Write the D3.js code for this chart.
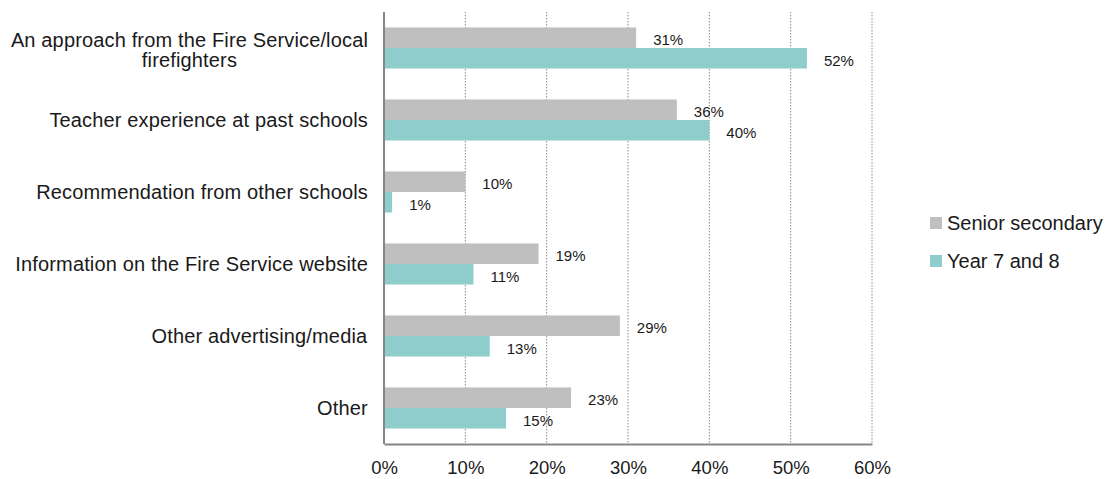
<!DOCTYPE html>
<html>
<head>
<meta charset="utf-8">
<script src="https://cdn.jsdelivr.net/npm/d3@7"></script>
<style>
  html, body { margin: 0; padding: 0; background: #fff; }
  svg { display: block; font-family: "Liberation Sans", Arial, sans-serif; }
</style>
</head>
<body>
<svg id="chart" width="1112" height="479"></svg>
<script>
// Sources of awareness, share of schools by level
const categories = [
  ["An approach from the Fire Service/local", "firefighters"],
  ["Teacher experience at past schools"],
  ["Recommendation from other schools"],
  ["Information on the Fire Service website"],
  ["Other advertising/media"],
  ["Other"]
];
const seriesNames = ["Senior secondary", "Year 7 and 8"];
const seniorSecondary = [31, 36, 10, 19, 29, 23];
const year7and8 = [52, 40, 1, 11, 13, 15];
const xTicks = [0, 10, 20, 30, 40, 50, 60];
const colors = ["#bfbfbf", "#8fcdcc"];

const svg = d3.select("#chart");
const plotLeft = 384, plotRight = 872, plotTop = 12, plotBottom = 444;

const x = d3.scaleLinear().domain([0, 60]).range([plotLeft, plotRight]);
const y = d3.scaleBand().domain(d3.range(categories.length)).range([plotTop, plotBottom]).paddingInner(0.43).paddingOuter(0.215);
const sub = d3.scaleBand().domain([0, 1]).range([0, y.bandwidth()]);

// dotted vertical gridlines
svg.append("g").selectAll("line")
  .data(xTicks.filter(d => d > 0))
  .join("line")
  .attr("x1", d => x(d)).attr("x2", d => x(d))
  .attr("y1", plotTop).attr("y2", plotBottom)
  .attr("stroke", "#8c8c8c").attr("stroke-width", 1)
  .attr("stroke-dasharray", "1.5,1.5");

const series = [seniorSecondary, year7and8];
series.forEach((vals, si) => {
  const g = svg.append("g");
  g.selectAll("rect")
    .data(vals)
    .join("rect")
    .attr("x", x(0))
    .attr("y", (d, i) => y(i) + sub(si))
    .attr("width", d => x(d) - x(0))
    .attr("height", sub.bandwidth())
    .attr("fill", colors[si]);
  g.selectAll("text")
    .data(vals)
    .join("text")
    .attr("x", d => x(d) + 17)
    .attr("y", (d, i) => y(i) + sub(si) + sub.bandwidth() / 2 + 2)
    .attr("dy", "0.35em")
    .attr("font-size", 15)
    .attr("fill", "#1a1a1a")
    .text(d => d + "%");
});

// axes
const xAxis = d3.axisBottom(x).tickValues(xTicks).tickFormat(d => d + "%").tickSize(0).tickPadding(17);
const gx = svg.append("g").attr("transform", `translate(0,${plotBottom})`).call(xAxis);
gx.select(".domain").attr("stroke", "#868686").attr("stroke-width", 2);
gx.selectAll("text").attr("font-size", 18.5).attr("fill", "#1a1a1a").attr("font-family", "Liberation Sans, Arial, sans-serif");

const yAxis = d3.axisLeft(y).tickSize(0).tickFormat(() => "");
const gy = svg.append("g").attr("transform", `translate(${plotLeft},0)`).call(yAxis);
gy.select(".domain").attr("stroke", "#868686").attr("stroke-width", 2).attr("d", `M0,${plotTop}V${plotBottom}`);

// category labels
const lab = svg.append("g").selectAll("text")
  .data(categories)
  .join("text")
  .attr("text-anchor", "middle")
  .attr("font-size", 20)
  .attr("letter-spacing", 0.15)
  .attr("fill", "#1a1a1a");
lab.each(function(lines, i) {
  const t = d3.select(this);
  const cy = y(i) + y.bandwidth() / 2;
  const lh = 20;
  lines.forEach((ln, k) => {
    t.append("tspan")
      .attr("x", 0)
      .attr("y", cy + (k - (lines.length - 1) / 2) * lh + (lines.length > 1 ? 2 : 0))
      .attr("dy", "0.35em")
      .text(ln);
  });
});
// right-align each label block at x=368, lines centred among themselves
lab.each(function() {
  const bb = this.getBBox();
  d3.select(this).attr("transform", `translate(${368 - (bb.x + bb.width)},0)`);
});

// legend
const leg = svg.append("g").attr("transform", "translate(930,0)");
seriesNames.forEach((name, i) => {
  const cy = 223 + i * 38;
  leg.append("rect").attr("x", 0).attr("y", cy - 6).attr("width", 12).attr("height", 12).attr("fill", colors[i]);
  leg.append("text").attr("x", 17).attr("y", cy).attr("dy", "0.35em")
    .attr("font-size", 20).attr("fill", "#1a1a1a").text(name);
});
</script>
</body>
</html>
